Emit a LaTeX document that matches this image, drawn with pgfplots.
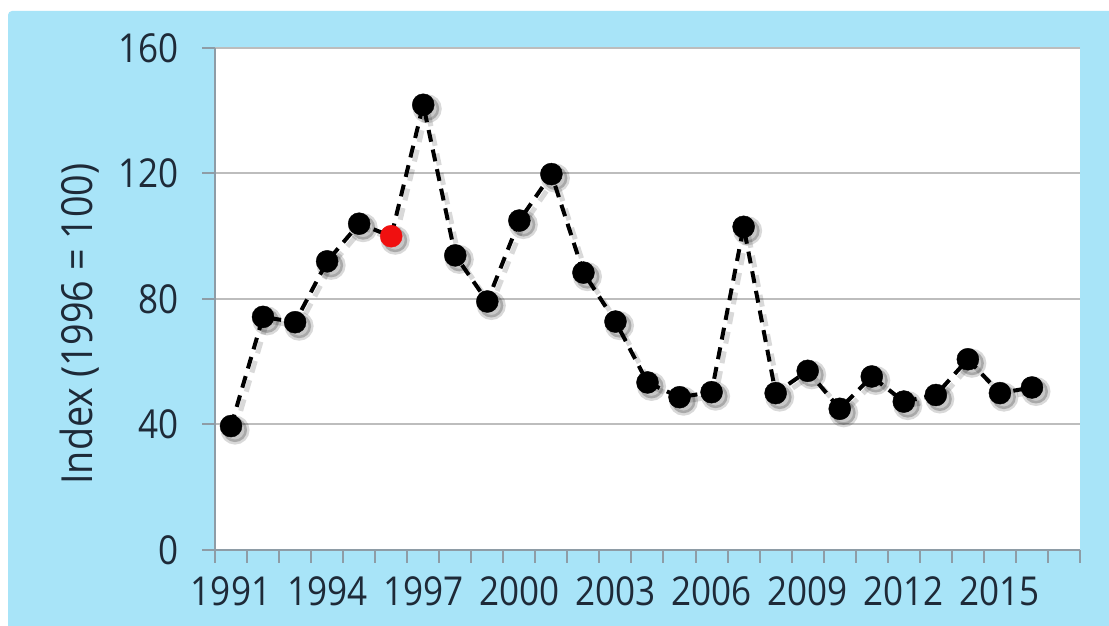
\documentclass[border=0pt]{standalone}
\usepackage{pgfplots}
\pgfplotsset{compat=1.18}
\usepackage{fontspec}
\setmainfont{Open Sans}[FakeStretch=0.88]
\definecolor{bgblue}{HTML}{A8E4F8}
\definecolor{txt}{HTML}{1E2A38}
\definecolor{axgray}{HTML}{8E9CA6}
\definecolor{gridgray}{HTML}{BDBDBD}
\definecolor{mred}{HTML}{F01010}
\pgfplotstableread{
year value
1991 39.5
1992 74.3
1993 72.6
1994 92
1995 104
1996 100
1997 141.9
1998 93.9
1999 79.2
2000 105
2001 119.8
2002 88.4
2003 72.8
2004 53.4
2005 48.7
2006 50.3
2007 103
2008 50
2009 57.1
2010 45
2011 55.3
2012 47.3
2013 49.4
2014 60.8
2015 50
2016 51.8
}\datatable
\begin{document}
\begin{tikzpicture}[x=1bp,y=1bp]
\useasboundingbox (0,0) rectangle (1109,626);
\fill[white] (0,0) rectangle (1109,626);
\fill[bgblue, rounded corners=4bp] (8,-10) rectangle (1120,615);
\begin{axis}[
  at={(215bp,76bp)}, anchor=south west,
  scale only axis, width=865bp, height=502bp,
  xmin=1990.5, xmax=2017.5, ymin=0, ymax=160,
  axis background/.style={fill=white},
  axis x line*=bottom, axis y line*=left,
  axis line style={-, draw=axgray, line width=2bp},
  xtick={1991,1994,...,2015},
  minor xtick={1990.5,1991.5,...,2017.5},
  ytick={0,40,...,160},
  tick align=outside,
  major tick length=13bp, minor tick length=13bp,
  major x tick style={draw=none},
  tick style={draw=axgray, line width=2bp},
  ymajorgrids, grid style={draw=gridgray, line width=2bp},
  /pgf/number format/1000 sep={},
  /pgf/number format/assume math mode=true,
  tick label style={font=\fontsize{40}{42}\selectfont, text=txt},
  xticklabel style={yshift=-10bp},
  yticklabel style={xshift=-20bp},
  ylabel={Index (1996 = 100)},
  ylabel style={font=\fontsize{43}{45}\selectfont, text=txt, at={(axis description cs:-0.156,0.45)}, anchor=center},
  clip=false,
]
% soft shadow
\addplot[draw=black, draw opacity=0.15, line width=5bp, dash pattern=on 12bp off 8bp, mark=*, mark size=12bp, mark options={solid, fill=black, draw=none, fill opacity=0.22}, xshift=4bp, yshift=-4bp] table[x=year, y=value] {\datatable};
% dashed line
\addplot[black, line width=4bp, dash pattern=on 12bp off 8bp, no marks] table[x=year, y=value] {\datatable};
% black markers (all years except 1996)
\addplot[only marks, black, mark=*, mark size=11bp, mark options={solid, fill=black, draw=none},
  unbounded coords=discard, x filter/.expression={x==1996 ? nan : x}] table[x=year, y=value] {\datatable};
% red marker (base year)
\addplot[only marks, color=mred, mark=*, mark size=11bp, mark options={solid, fill=mred, draw=none}] coordinates {(1996,100)};
\end{axis}
\end{tikzpicture}
\end{document}
